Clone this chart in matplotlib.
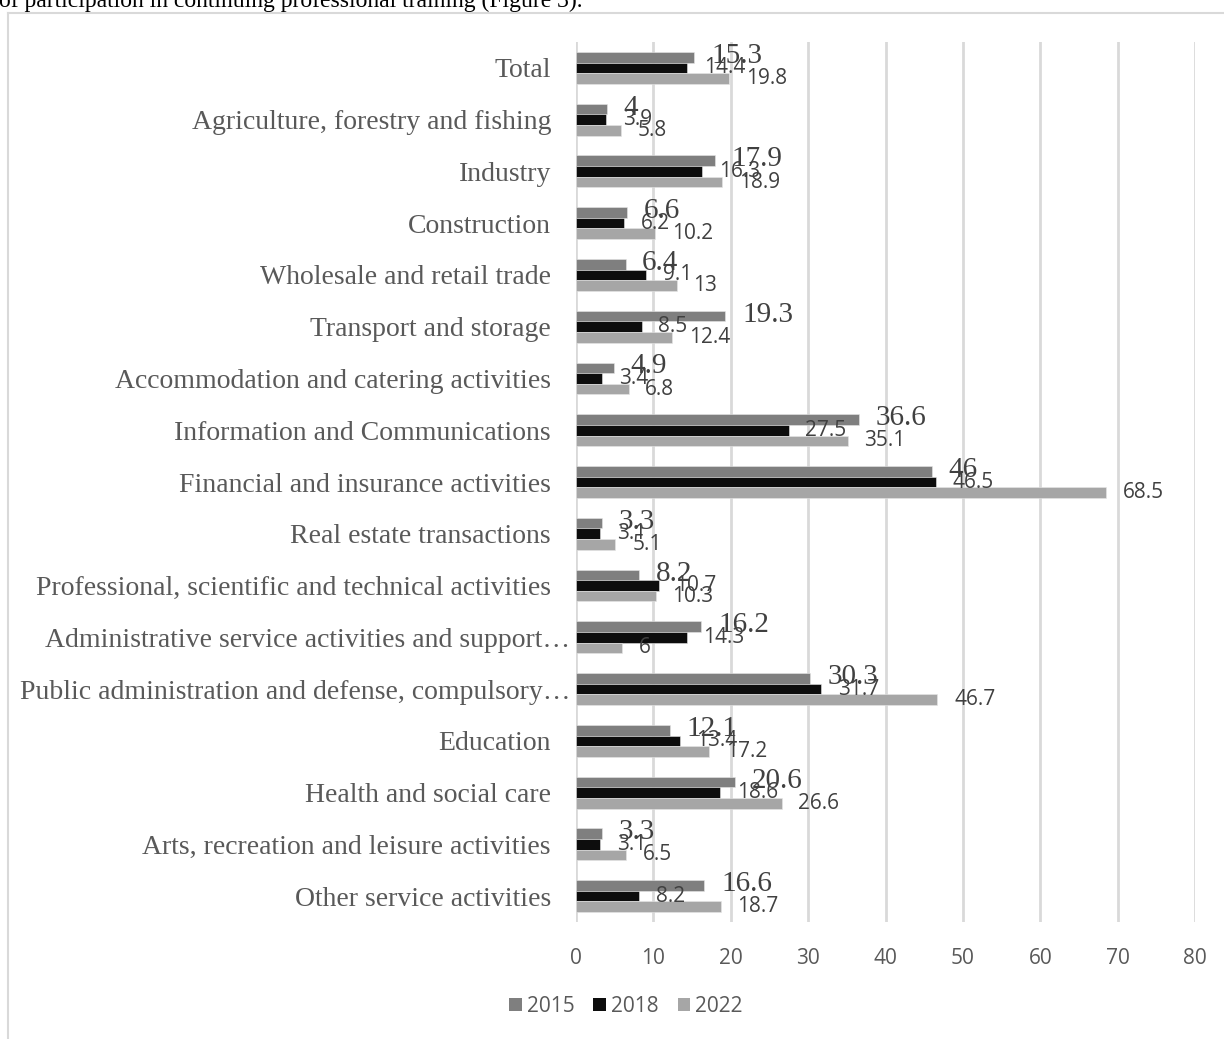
import numpy as np
import matplotlib.pyplot as plt
from matplotlib.lines import Line2D
from matplotlib.patches import Patch

# === DATA ===
categories = [
    "Total",
    "Agriculture, forestry and fishing",
    "Industry",
    "Construction",
    "Wholesale and retail trade",
    "Transport and storage",
    "Accommodation and catering activities",
    "Information and Communications",
    "Financial and insurance activities",
    "Real estate transactions",
    "Professional, scientific and technical activities",
    "Administrative service activities and support\u2026",
    "Public administration and defense, compulsory\u2026",
    "Education",
    "Health and social care",
    "Arts, recreation and leisure activities",
    "Other service activities",
]
vals_2015 = [15.3, 4, 17.9, 6.6, 6.4, 19.3, 4.9, 36.6, 46, 3.3, 8.2, 16.2, 30.3, 12.1, 20.6, 3.3, 16.6]
vals_2018 = [14.4, 3.9, 16.3, 6.2, 9.1, 8.5, 3.4, 27.5, 46.5, 3.1, 10.7, 14.3, 31.7, 13.4, 18.6, 3.1, 8.2]
vals_2022 = [19.8, 5.8, 18.9, 10.2, 13, 12.4, 6.8, 35.1, 68.5, 5.1, 10.3, 6, 46.7, 17.2, 26.6, 6.5, 18.7]
years = ["2015", "2018", "2022"]
xticks = [0, 10, 20, 30, 40, 50, 60, 70, 80]

# === STYLE ===
colors = ["#7f7f7f", "#0d0d0d", "#a6a6a6"]
serif = "Liberation Serif"
sans = "Open Sans"
txt_gray = "#595959"
W, H = 1224, 1039

fig = plt.figure(figsize=(W / 100, H / 100), dpi=100)
ax = fig.add_axes([576 / W, 1 - 922 / H, (1195 - 576) / W, (922 - 42) / H])

y = np.arange(len(categories))
bh = 0.205
series = [vals_2015, vals_2018, vals_2022]
offsets = [-bh, 0, bh]

for vals, off, col, yr in zip(series, offsets, colors, years):
    ax.barh(y + off, vals, height=bh, color=col, edgecolor="#e6e6e6",
            linewidth=0.4, label=yr, zorder=3)

# value labels: 2015 in serif (bigger), others in sans
for i in range(len(categories)):
    ax.annotate(f"{vals_2015[i]:g}", (vals_2015[i], y[i] - bh), xytext=(12, 1),
                textcoords="offset points", ha="left", va="center",
                fontsize=21, family=serif, color="#404040", zorder=5)
    ax.annotate(f"{vals_2018[i]:g}", (vals_2018[i], y[i]), xytext=(12, 0),
                textcoords="offset points", ha="left", va="center",
                fontsize=15, family=sans, color="#404040", zorder=5)
    ax.annotate(f"{vals_2022[i]:g}", (vals_2022[i], y[i] + bh), xytext=(12, 0),
                textcoords="offset points", ha="left", va="center",
                fontsize=15, family=sans, color="#404040", zorder=5)

# category labels drawn by hand: the truncated ones run into the axis
for i, cat in enumerate(categories):
    dx = -4.3 if cat.endswith("\u2026") else -18
    ax.annotate(cat, (0, y[i]), xycoords=("axes fraction", "data"), xytext=(dx, 0),
                textcoords="offset points", ha="right", va="center_baseline",
                fontsize=20, family=serif, color=txt_gray, annotation_clip=False)

ax.set_xlim(0, 80)
ax.set_ylim(len(categories) - 0.5, -0.5)
ax.set_xticks(xticks)
ax.set_xticklabels([str(t) for t in xticks], family=sans, fontsize=15, color=txt_gray)
ax.set_yticks([])
ax.tick_params(axis="x", length=0, pad=19)
ax.grid(axis="x", color="#d9d9d9", linewidth=2, zorder=0)
for s in ax.spines.values():
    s.set_visible(False)

# legend
handles = [Patch(facecolor=c, label=yr) for c, yr in zip(colors, years)]
fig.legend(handles=handles, loc="center", bbox_to_anchor=(626 / W, 1 - 1006 / H),
           ncol=3, frameon=False, handlelength=0.6, handleheight=0.6,
           handletextpad=0.25, columnspacing=0.9,
           prop={"family": sans, "size": 15}, labelcolor=txt_gray)

# chart border (cut off at right and bottom)
fig.add_artist(Line2D([8 / W, 8 / W], [0, 1 - 13 / H], color="#d9d9d9", lw=1.5,
                      transform=fig.transFigure))
fig.add_artist(Line2D([8 / W, 1], [1 - 13 / H, 1 - 13 / H], color="#d9d9d9", lw=1.5,
                      transform=fig.transFigure))

# leftover line of the page above the chart
fig.text(-1 / W, 1 - 7 / H, "of participation in continuing professional training (Figure 3).",
         family=serif, fontsize=17, color="black", ha="left", va="baseline")

fig.savefig("out.png", dpi=100)
